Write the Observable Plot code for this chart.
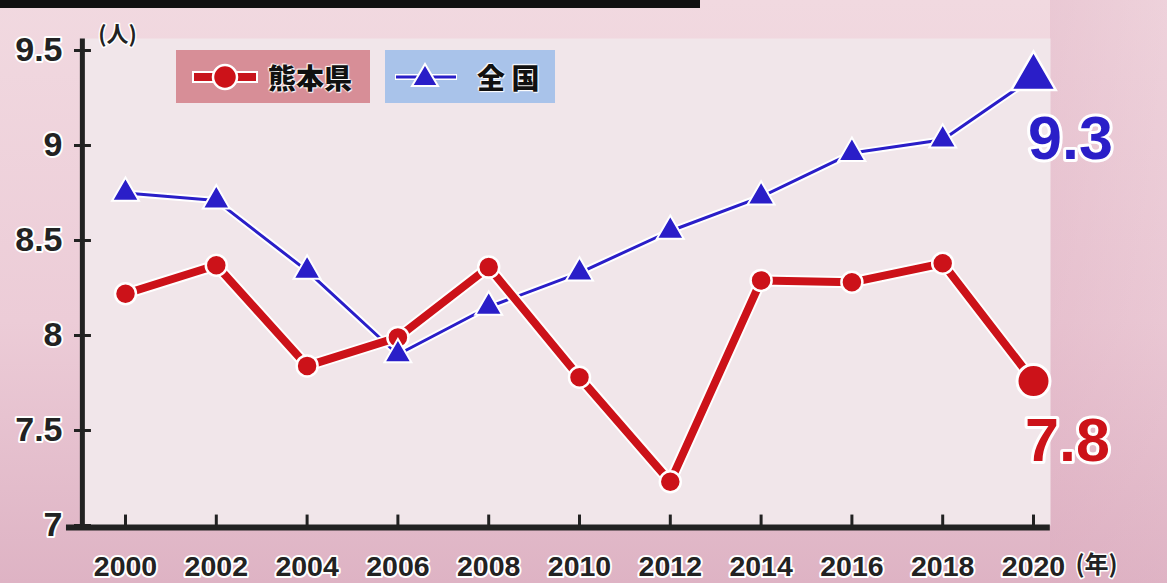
<!DOCTYPE html>
<html><head><meta charset="utf-8">
<script src="https://cdn.jsdelivr.net/npm/d3@7"></script>
<script src="https://cdn.jsdelivr.net/npm/@observablehq/plot@0.6"></script>
<style>
html,body{margin:0;padding:0;}
body{width:1167px;height:583px;overflow:hidden;background:linear-gradient(180deg,#f1d9e0 0%,#ecccd7 55%,#deb3c4 100%);}
#wrap{position:relative;width:1167px;height:583px;font-family:"Liberation Sans","Noto Sans CJK JP",sans-serif;}
#topbar{position:absolute;left:0;top:0;width:700px;height:8px;background:#111;}
#rightband{position:absolute;left:1050px;top:0;width:117px;height:583px;background:linear-gradient(90deg,rgba(220,170,190,0.35),rgba(225,180,198,0.2));}
.leg{position:absolute;height:53px;top:50px;display:flex;align-items:center;}
.leg span{font-family:"Noto Sans CJK JP",sans-serif;font-weight:900;font-size:28px;color:#111;text-shadow:0 0 2px #fff,0 0 2px #fff,1px 1px 1px #fff,-1px -1px 1px #fff;}
</style></head>
<body><div id="wrap"><div id="rightband"></div><div id="chart"></div><div id="topbar"></div>
<div class="leg" style="left:176px;width:194px;background:#d78e97;">
 <svg width="92" height="53"><line x1="16" y1="27" x2="82" y2="27" stroke="#fff" stroke-width="12"/><line x1="18" y1="27" x2="80" y2="27" stroke="#c8141c" stroke-width="8"/><circle cx="49" cy="27" r="12" fill="#cc1219" stroke="#fff" stroke-width="2.5"/></svg>
 <span>熊本県</span></div>
<div class="leg" style="left:385px;width:170px;background:#a9c3ea;">
 <svg width="92" height="53"><line x1="10" y1="27" x2="72" y2="27" stroke="#fff" stroke-width="6"/><line x1="11" y1="27" x2="71" y2="27" stroke="#2a1ec8" stroke-width="3"/><path d="M40,14 L53,36 L27,36 Z" fill="#2a1ec8" stroke="#fff" stroke-width="2"/></svg>
 <span>全&nbsp;国</span></div>
</div>
<script>
const years = [2000,2002,2004,2006,2008,2010,2012,2014,2016,2018,2020];
const kumamoto = [8.22,8.37,7.84,7.99,8.36,7.78,7.23,8.29,8.28,8.38,7.76];
const national = [8.75,8.71,8.34,7.90,8.15,8.33,8.55,8.73,8.96,9.03,9.36];
const yTicks = [7,7.5,8,8.5,9,9.5];
const yTickLabels = ["7","7.5","8","8.5","9","9.5"];
const endLabels = {kumamoto:"7.8", national:"9.3"};
const yUnit = "(人)";
const xUnit = "(年)";

const red = "#cc1219", blue = "#2a1ec8";
const kData = years.map((x,i)=>({x, y:kumamoto[i]}));
const nData = years.map((x,i)=>({x, y:national[i]}));
const last = years[years.length-1];
const font = "Liberation Sans, Noto Sans CJK JP, sans-serif";

const chart = Plot.plot({
  width:1167, height:583,
  marginLeft:82, marginRight:117, marginTop:38, marginBottom:58,
  insetLeft:43, insetRight:17, insetTop:12,
  style:{background:"transparent", fontFamily:font, overflow:"visible"},
  x:{domain:[2000,2020]},
  y:{domain:[7,9.5]},
  marks:[
    Plot.frame({fill:"#f1e6ea", stroke:null}),
    Plot.ruleY([7], {stroke:"#222", strokeWidth:6, dy:2, x1:1998.7, x2:2020.37}),
    Plot.ruleX([1999.05], {stroke:"#222", strokeWidth:5, y1:6.99, y2:9.56}),
    Plot.ruleX(years, {x:d=>d, y1:7, y2:7.055, stroke:"#222", strokeWidth:3}),
    Plot.axisY({ticks:yTicks, tickFormat:(d)=>yTickLabels[yTicks.indexOf(d)], tickSize:8, tickPadding:12,
      fontSize:34, fontWeight:"bold", fill:"#222", stroke:"#222", strokeWidth:3,
      textStroke:"#fff", textStrokeWidth:4, label:null}),
    Plot.ruleY(yTicks, {x1:1999.05, x2:1999.25, stroke:"#222", strokeWidth:3}),
    Plot.axisX({ticks:years, tickFormat:d=>String(d), tickSize:0, tickPadding:30,
      fontSize:28.5, fontWeight:"bold", fill:"#222",
      textStroke:"#fff", textStrokeWidth:4, label:null}),
    // national line
    Plot.line(nData, {x:"x", y:"y", stroke:"#fff", strokeWidth:7}),
    Plot.line(nData, {x:"x", y:"y", stroke:blue, strokeWidth:3}),
    // kumamoto line
    Plot.line(kData, {x:"x", y:"y", stroke:"#fff", strokeWidth:12}),
    Plot.line(kData, {x:"x", y:"y", stroke:red, strokeWidth:8}),
    Plot.dot(kData.filter(d=>d.x!==last), {x:"x", y:"y", r:10.5, fill:red, stroke:"#fff", strokeWidth:2.5}),
    Plot.dot(kData.filter(d=>d.x===last), {x:"x", y:"y", r:16.5, fill:red, stroke:"#fff", strokeWidth:3}),
    Plot.dot(nData.filter(d=>d.x!==last), {x:"x", y:"y", symbol:"triangle", r:10, fill:blue, stroke:"#fff", strokeWidth:2}),
    Plot.dot(nData.filter(d=>d.x===last), {x:"x", y:"y", symbol:"triangle", r:16.5, fill:blue, stroke:"#fff", strokeWidth:2.5}),
    // end labels
    Plot.text([{x:last, y:kumamoto[kumamoto.length-1]}], {x:"x", y:"y", text:()=>endLabels.kumamoto, dx:34, dy:60,
      fontSize:61, fontWeight:"bold", fill:red, stroke:"#fff", strokeWidth:6, textAnchor:"middle", fontFamily:font}),
    Plot.text([{x:last, y:national[national.length-1]}], {x:"x", y:"y", text:()=>endLabels.national, dx:37, dy:62,
      fontSize:61, fontWeight:"bold", fill:blue, stroke:"#fff", strokeWidth:6, textAnchor:"middle", fontFamily:font}),
    // unit labels
    Plot.text([{x:2000, y:9.5}], {x:"x", y:"y", text:()=>yUnit, dx:-8, dy:-16, fontSize:22, fontWeight:"bold",
      fill:"#222", stroke:"#fff", strokeWidth:3, textAnchor:"middle", fontFamily:"Noto Sans CJK JP, sans-serif"}),
    Plot.text([{x:last, y:7}], {x:"x", y:"y", text:()=>xUnit, dx:42, dy:40, fontSize:24, fontWeight:"bold",
      fill:"#222", stroke:"#fff", strokeWidth:3, textAnchor:"start", fontFamily:"Noto Sans CJK JP, sans-serif"})
  ]
});
chart.style.position="absolute"; chart.style.left="0"; chart.style.top="0";
document.getElementById("chart").appendChild(chart);
</script>
</body></html>
